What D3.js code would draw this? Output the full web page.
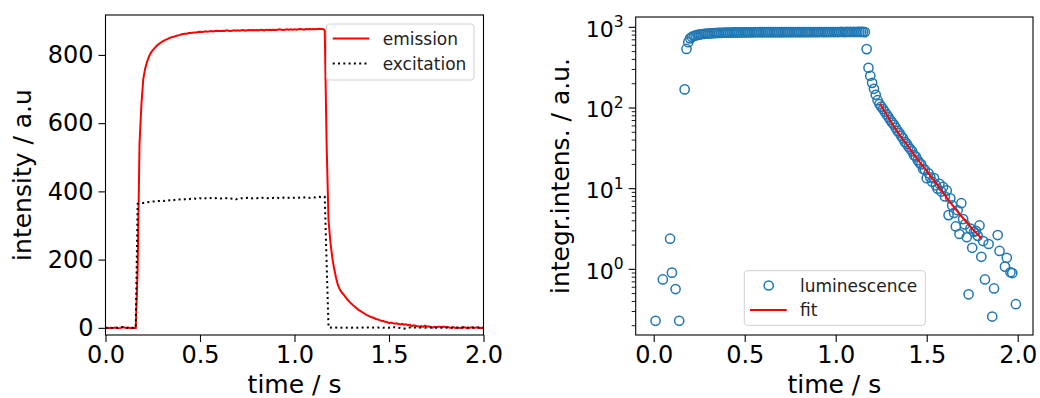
<!DOCTYPE html>
<html>
<head>
<meta charset="utf-8">
<script src="https://cdnjs.cloudflare.com/ajax/libs/d3/7.8.5/d3.min.js"></script>
<style>
  html, body { margin: 0; padding: 0; background: #fff; }
  svg { display: block; font-family: "DejaVu Sans", sans-serif; }
</style>
</head>
<body>
<svg id="chart" width="1040" height="398"></svg>
<script>
// ---------------- data ----------------
const time = [
  0.00,0.01,0.02,0.03,0.04,0.05,0.06,0.07,0.08,0.09,
  0.10,0.11,0.12,0.13,0.14,0.15,0.16,0.17,0.18,0.19,
  0.20,0.21,0.22,0.23,0.24,0.25,0.26,0.27,0.28,0.29,
  0.30,0.31,0.32,0.33,0.34,0.35,0.36,0.37,0.38,0.39,
  0.40,0.41,0.42,0.43,0.44,0.45,0.46,0.47,0.48,0.49,
  0.50,0.51,0.52,0.53,0.54,0.55,0.56,0.57,0.58,0.59,
  0.60,0.61,0.62,0.63,0.64,0.65,0.66,0.67,0.68,0.69,
  0.70,0.71,0.72,0.73,0.74,0.75,0.76,0.77,0.78,0.79,
  0.80,0.81,0.82,0.83,0.84,0.85,0.86,0.87,0.88,0.89,
  0.90,0.91,0.92,0.93,0.94,0.95,0.96,0.97,0.98,0.99,
  1.00,1.01,1.02,1.03,1.04,1.05,1.06,1.07,1.08,1.09,
  1.10,1.11,1.12,1.13,1.14,1.15,1.16,1.17,1.18,1.19,
  1.20,1.21,1.22,1.23,1.24,1.25,1.26,1.27,1.28,1.29,
  1.30,1.31,1.32,1.33,1.34,1.35,1.36,1.37,1.38,1.39,
  1.40,1.41,1.42,1.43,1.44,1.45,1.46,1.47,1.48,1.49,
  1.50,1.51,1.52,1.53,1.54,1.55,1.56,1.57,1.58,1.59,
  1.60,1.61,1.62,1.63,1.64,1.65,1.66,1.67,1.68,1.69,
  1.70,1.71,1.72,1.73,1.74,1.75,1.76,1.77,1.78,1.79,
  1.80,1.81,1.82,1.83,1.84,1.85,1.86,1.87,1.88,1.89,
  1.90,1.91,1.92,1.93,1.94,1.95,1.96,1.97,1.98,1.99,
  2.00
];

// emission / integrated luminescence intensity (a.u.)
const emission = [
  -0.5,0.23,-0.4,-0.8,-0.3,0.75,-0.6,-1.2,-0.2,2.4,
  0.91,-0.5,0.57,-0.9,0.23,-0.3,-0.2,170,540,655,
  730,760,780,795,806,814,820,826,831,835,
  839,842,845,847,850,852,853,855,857,858,
  860,861,862,862,864,864,865,866,866,867,
  868,867,868,869,868,869,870,869,870,871,
  870,870,871,870,872,871,870,871,872,871,
  872,871,872,873,871,872,873,872,873,872,
  873,872,874,873,872,874,873,874,873,874,
  873,874,875,874,873,874,875,874,875,874,
  875,874,875,876,875,874,876,875,876,875,
  876,875,876,877,876,876,872,537,315,251,
  205,173,146,125,112,104,97,90,83,77,
  71,66,62,57,52,49,45,42,38,36,
  33,31,29,26,25,22.5,21,20,17.5,17.2,
  13.5,15.5,13.8,12.2,13.5,11.0,10.0,11.5,9.2,10.5,
  8.0,9.5,4.7,7.6,6.2,5.0,3.4,5.4,2.74,6.6,
  4.2,3.6,2.5,0.49,3.2,1.85,2.92,3.0,2.6,3.5,
  1.43,2.24,0.75,-0.3,2.06,-0.5,0.26,0.58,-0.8,2.66,
  1.69,-0.2,-1.0,1.08,1.39,-0.3,0.92,0.90,-0.5,0.37,
  -0.6
];

// excitation intensity (a.u.)
const excitation = [
  0.5,-0.3,0.8,0.2,-0.5,1.0,0.3,-0.2,0.6,2.0,
  0.4,-0.4,0.3,0.1,-0.6,0.2,0.5,363,365,366,
  366,367,368,369,369,370,370,371,372,372,
  373,372,374,373,374,375,374,376,375,376,
  377,376,377,378,377,378,377,379,378,379,
  380,379,378,380,379,381,380,379,380,381,
  380,379,380,381,380,379,378,379,380,377,
  378,379,380,379,380,381,380,379,380,381,
  380,381,380,381,382,381,380,381,380,381,
  380,381,380,381,382,381,380,381,382,381,
  381,382,381,382,381,382,383,382,381,382,
  383,382,383,384,383,384,384,190,1.5,1.0,
  0.5,1.2,0.8,0.3,1.0,0.6,0.2,0.9,0.4,0.7,
  0.3,1.1,0.5,0.2,0.8,0.4,0.9,0.1,0.6,1.0,
  0.4,0.2,0.8,0.5,1.2,0.3,0.7,0.4,0.9,0.6,
  0.3,1.4,0.6,2.0,0.8,0.2,-0.5,-1.5,-2.5,-1.0,
  0.5,1.0,0.6,0.2,1.3,0.7,0.4,1.0,0.6,0.2,
  0.9,0.5,1.1,0.3,0.7,0.4,1.0,0.6,0.2,0.8,
  0.5,1.0,0.3,0.7,0.4,0.9,0.6,0.2,0.8,0.5,
  1.0,0.3,0.7,0.4,0.9,0.6,0.2,0.8,0.5,1.0,
  0.4
];

// decay fit
const fitTime  = [1.243,1.27,1.30,1.35,1.40,1.45,1.50,1.55,1.60,1.65,1.70,1.75,1.802];
const fitValue = [112,90,70,47,33,23,16.5,11.8,8.3,5.9,4.3,3.2,2.4];

// tick labels
const xTickValues = [0, 0.5, 1.0, 1.5, 2.0];
const xTickLabels = ["0.0", "0.5", "1.0", "1.5", "2.0"];
const yLinTickValues = [0, 200, 400, 600, 800];
const yLinTickLabels = ["0", "200", "400", "600", "800"];
const yLogExponents = [0, 1, 2, 3];

const legendLeft  = ["emission", "excitation"];
const legendRight = ["luminescence", "fit"];

// ---------------- drawing ----------------
const svg = d3.select("#chart");
const BLUE = "#1f77b4";
const TICK_FONT = 24;
const LABEL_FONT = 25;

// ---- left panel ----
const L = { x0: 105.5, x1: 483.5, y0: 335, y1: 15 };
const xL = d3.scaleLinear().domain([0, 2]).range([L.x0, L.x1]);
const yL = d3.scaleLinear().domain([-21, 917]).range([L.y0, L.y1]);

const gL = svg.append("g");
gL.append("defs").append("clipPath").attr("id", "clipL")
  .append("rect").attr("x", L.x0).attr("y", L.y1).attr("width", L.x1 - L.x0).attr("height", L.y0 - L.y1);

const rowsL = time.map((t, i) => ({ t, em: emission[i], ex: excitation[i] }));

gL.append("path").datum(rowsL)
  .attr("clip-path", "url(#clipL)")
  .attr("fill", "none").attr("stroke", "#ff0000").attr("stroke-width", 2)
  .attr("d", d3.line().x(d => xL(d.t)).y(d => yL(d.em)));

gL.append("path").datum(rowsL)
  .attr("clip-path", "url(#clipL)")
  .attr("fill", "none").attr("stroke", "#000").attr("stroke-width", 2)
  .attr("stroke-dasharray", "2,3.3")
  .attr("d", d3.line().x(d => xL(d.t)).y(d => yL(d.ex)));

// axes
const axXL = d3.axisBottom(xL).tickValues(xTickValues)
  .tickFormat((d, i) => xTickLabels[i]).tickSize(7).tickPadding(4);
const gxL = gL.append("g").attr("transform", `translate(0,${L.y0})`).call(axXL);
const axYL = d3.axisLeft(yL).tickValues(yLinTickValues)
  .tickFormat((d, i) => yLinTickLabels[i]).tickSize(7).tickPadding(5);
const gyL = gL.append("g").attr("transform", `translate(${L.x0},0)`).call(axYL);
[gxL, gyL].forEach(g => {
  g.select(".domain").remove();
  g.selectAll("line").attr("stroke", "#000").attr("stroke-width", 1.1);
  g.selectAll("text").attr("font-size", TICK_FONT).attr("fill", "#000")
    .attr("font-family", "DejaVu Sans");
});
gL.append("rect").attr("x", L.x0).attr("y", L.y1).attr("width", L.x1 - L.x0).attr("height", L.y0 - L.y1)
  .attr("fill", "none").attr("stroke", "#000").attr("stroke-width", 1.1);

gL.append("text").attr("x", (L.x0 + L.x1) / 2).attr("y", 393).attr("text-anchor", "middle")
  .attr("font-size", LABEL_FONT).text("time / s");
gL.append("text").attr("transform", `translate(31,${(L.y0 + L.y1) / 2}) rotate(-90)`)
  .attr("text-anchor", "middle").attr("font-size", LABEL_FONT).text("intensity / a.u");

// left legend
const lgL = gL.append("g");
lgL.append("rect").attr("x", 326.5).attr("y", 24).attr("width", 147.5).attr("height", 56)
  .attr("rx", 3).attr("fill", "#fff").attr("fill-opacity", 0.8).attr("stroke", "#d0d0d0");
lgL.selectAll("line.item").data(legendLeft).join("line").attr("class", "item")
  .attr("x1", 332.7).attr("x2", 369.3)
  .attr("y1", (d, i) => 38.5 + i * 25).attr("y2", (d, i) => 38.5 + i * 25)
  .attr("stroke", (d, i) => i === 0 ? "#ff0000" : "#000").attr("stroke-width", 2)
  .attr("stroke-dasharray", (d, i) => i === 0 ? null : "2,3.3");
lgL.selectAll("text.item").data(legendLeft).join("text").attr("class", "item")
  .attr("x", 382.7).attr("y", (d, i) => 44.5 + i * 25)
  .attr("font-size", 17).attr("fill", "#222").text(d => d);

// ---- right panel ----
const R = { x0: 635.7, x1: 1033, y0: 335, y1: 17 };
const xR = d3.scaleLinear().domain([-0.099, 2.084]).range([R.x0, R.x1]);
const yR = d3.scaleLog().domain([Math.pow(10, -0.814), Math.pow(10, 3.128)]).range([R.y0, R.y1]);

const gR = svg.append("g");
gR.append("defs").append("clipPath").attr("id", "clipR")
  .append("rect").attr("x", R.x0).attr("y", R.y1).attr("width", R.x1 - R.x0).attr("height", R.y0 - R.y1);

const pointsR = time.map((t, i) => ({ t, v: emission[i] })).filter(d => d.v > 0);
gR.append("g").attr("clip-path", "url(#clipR)")
  .selectAll("circle").data(pointsR).join("circle")
  .attr("cx", d => xR(d.t)).attr("cy", d => yR(d.v)).attr("r", 4.6)
  .attr("fill", "none").attr("stroke", BLUE).attr("stroke-width", 1.5);

const fitRows = fitTime.map((t, i) => ({ t, v: fitValue[i] }));
gR.append("path").datum(fitRows)
  .attr("fill", "none").attr("stroke", "#ff0000").attr("stroke-width", 2)
  .attr("d", d3.line().x(d => xR(d.t)).y(d => yR(d.v)).curve(d3.curveMonotoneX));

const axXR = d3.axisBottom(xR).tickValues(xTickValues)
  .tickFormat((d, i) => xTickLabels[i]).tickSize(7).tickPadding(4);
const gxR = gR.append("g").attr("transform", `translate(0,${R.y0})`).call(axXR);
gxR.select(".domain").remove();
gxR.selectAll("line").attr("stroke", "#000").attr("stroke-width", 1.1);
gxR.selectAll("text").attr("font-size", TICK_FONT).attr("fill", "#000").attr("font-family", "DejaVu Sans");

// log y axis: major & minor ticks
const majorVals = yLogExponents.map(e => Math.pow(10, e));
const minorVals = [];
[-1, 0, 1, 2].forEach(e => { for (let m = 2; m <= 9; m++) minorVals.push(m * Math.pow(10, e)); });
const [lo, hi] = yR.domain();
const gyR = gR.append("g");
gyR.selectAll("line.minor").data(minorVals.filter(v => v >= lo && v <= hi)).join("line")
  .attr("class", "minor").attr("x1", R.x0 - 4).attr("x2", R.x0)
  .attr("y1", d => yR(d)).attr("y2", d => yR(d)).attr("stroke", "#000").attr("stroke-width", 0.9);
gyR.selectAll("line.major").data(majorVals).join("line")
  .attr("class", "major").attr("x1", R.x0 - 7).attr("x2", R.x0)
  .attr("y1", d => yR(d)).attr("y2", d => yR(d)).attr("stroke", "#000").attr("stroke-width", 1.1);
const lab = gyR.selectAll("text.major").data(yLogExponents).join("text")
  .attr("class", "major").attr("x", R.x0 - 12).attr("y", d => yR(Math.pow(10, d)) + 9.5)
  .attr("text-anchor", "end").attr("font-size", 22).attr("fill", "#000");
lab.append("tspan").text("10");
lab.append("tspan").attr("dy", -9.5).attr("font-size", 15.5).text(d => String(d));

gR.append("rect").attr("x", R.x0).attr("y", R.y1).attr("width", R.x1 - R.x0).attr("height", R.y0 - R.y1)
  .attr("fill", "none").attr("stroke", "#000").attr("stroke-width", 1.1);

gR.append("text").attr("x", (R.x0 + R.x1) / 2).attr("y", 393).attr("text-anchor", "middle")
  .attr("font-size", LABEL_FONT).text("time / s");
gR.append("text").attr("transform", `translate(569,${(R.y0 + R.y1) / 2}) rotate(-90)`)
  .attr("text-anchor", "middle").attr("font-size", LABEL_FONT).text("integr.intens. / a.u.");

// right legend
const lgR = gR.append("g");
lgR.append("rect").attr("x", 744.3).attr("y", 270.7).attr("width", 181).attr("height", 54.6)
  .attr("rx", 3).attr("fill", "#fff").attr("fill-opacity", 0.8).attr("stroke", "#d0d0d0");
lgR.append("circle").datum(legendRight[0]).attr("cx", 768.7).attr("cy", 285.5).attr("r", 4.6)
  .attr("fill", "none").attr("stroke", BLUE).attr("stroke-width", 1.5);
lgR.append("line").datum(legendRight[1]).attr("x1", 750).attr("x2", 786.7).attr("y1", 310).attr("y2", 310)
  .attr("stroke", "#ff0000").attr("stroke-width", 2);
lgR.selectAll("text.item").data(legendRight).join("text").attr("class", "item")
  .attr("x", 800).attr("y", (d, i) => 291.5 + i * 24.5)
  .attr("font-size", 17).attr("fill", "#222").text(d => d);
</script>
</body>
</html>
